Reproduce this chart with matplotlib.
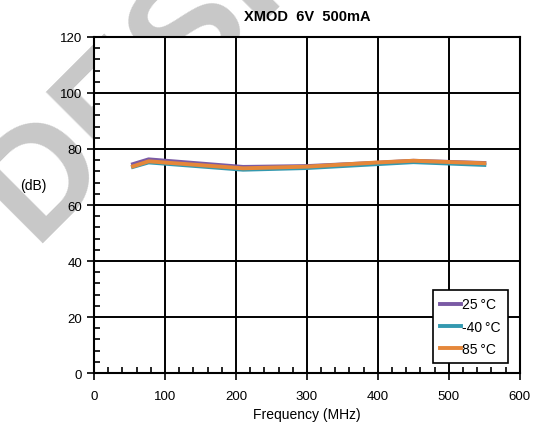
import matplotlib
matplotlib.use("Agg")
import matplotlib.pyplot as plt
from matplotlib.ticker import MultipleLocator

plt.rcParams['font.family'] = ['Liberation Sans', 'DejaVu Sans']

# Frequency (MHz) and gain (dB) per temperature
freq = [55, 77, 210, 300, 400, 450, 550]
gain_25 = [74.6, 76.3, 73.6, 73.9, 75.1, 75.8, 75.0]
gain_m40 = [73.6, 75.2, 72.6, 73.2, 74.6, 75.3, 74.3]
gain_85 = [73.8, 75.6, 73.1, 73.7, 75.2, 75.8, 74.9]
labels = ["25\u2009°C", "-40\u2009°C", "85\u2009°C"]
colors = ["#7a5aa5", "#3399b0", "#e5873a"]

fig = plt.figure(figsize=(5.37, 4.31), dpi=100)

# grey watermark in the top-left corner, behind the plot
fig.text(0.01, 0.50, "DESIGN", fontsize=110, fontweight='bold', color='#c8c8c8',
         rotation=45, rotation_mode='anchor', ha='left', va='center', zorder=0)

ax = fig.add_axes([0.175, 0.132, 0.793, 0.780])
ax.set_facecolor('white')
ax.set_zorder(1)

for ys, lab, c in zip([gain_25, gain_m40, gain_85], labels, colors):
    ax.plot(freq, ys, color=c, lw=2.8, label=lab, solid_joinstyle='round')

ax.set_xlim(0, 600)
ax.set_ylim(0, 120)
ax.xaxis.set_major_locator(MultipleLocator(100))
ax.xaxis.set_minor_locator(MultipleLocator(20))
ax.yaxis.set_major_locator(MultipleLocator(20))
ax.yaxis.set_minor_locator(MultipleLocator(4))
ax.tick_params(which='major', direction='out', length=5, width=1.2, labelsize=9.5)
ax.tick_params(axis='x', which='major', pad=7)
ax.tick_params(which='minor', direction='in', length=4, width=1.2)
ax.grid(which='major', color='black', lw=1.4)
for s in ax.spines.values():
    s.set_linewidth(1.5)

ax.set_title("XMOD  6V  500mA", fontsize=10.5, fontweight='bold', pad=12)
ax.set_xlabel("Frequency (MHz)", fontsize=10, labelpad=4)
ax.set_ylabel("(dB)", fontsize=10, rotation=0)
ax.yaxis.set_label_coords(-0.143, 0.54)

leg = ax.legend(loc='lower right', bbox_to_anchor=(0.972, 0.03), borderaxespad=0,
                fontsize=10, handlelength=1.5, handletextpad=0.1, fancybox=False,
                framealpha=1, edgecolor='black', borderpad=0.5, labelspacing=0.6)
leg.get_frame().set_linewidth(1.2)

fig.savefig("out.png", dpi=100)
